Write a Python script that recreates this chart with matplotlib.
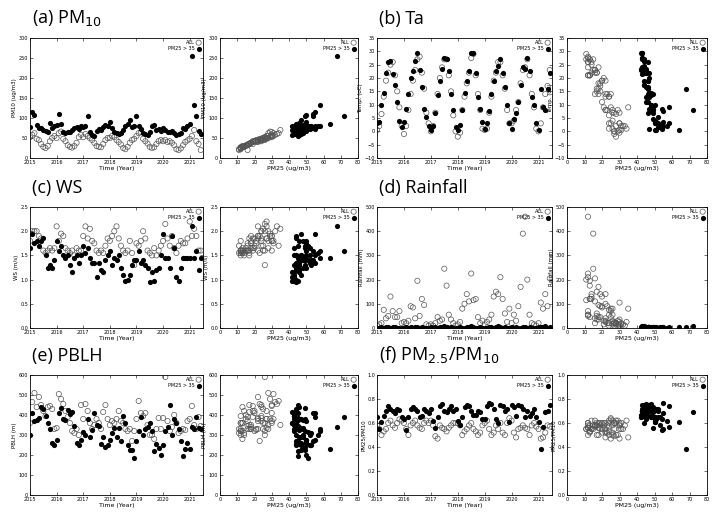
import matplotlib.pyplot as plt
import numpy as np

# Monthly means, Jan 2015 - Jun 2021 (78 months)
pm25_all = [30, 32, 28, 24, 22, 17, 14, 12, 13, 19, 25, 28,
            27, 31, 29, 23, 20, 16, 13, 12, 14, 18, 26, 30,
            29, 33, 27, 25, 21, 18, 15, 13, 12, 17, 24, 27,
            28, 30, 26, 22, 19, 16, 12, 11, 13, 18, 23, 26,
            31, 34, 30, 24, 20, 17, 14, 12, 13, 17, 22, 25,
            24, 26, 22, 20, 18, 15, 12, 11, 12, 16, 21, 24,
            27, 30, 35, 22, 19, 16]
pm25_high = [52, 55, 50, 48, 45, 46, 44, 43, 44, 46, 50, 53,
             50, 54, 49, 47, 45, 44, 43, 42, 45, 47, 52, 55,
             51, 57, 49, 48, 46, 45, 43, 44, 44, 46, 49, 52,
             50, 53, 48, 47, 44, 45, 43, 42, 44, 47, 49, 51,
             54, 58, 55, 48, 46, 45, 44, 43, 45, 46, 48, 50,
             47, 49, 46, 45, 44, 43, 42, 43, 44, 45, 48, 50,
             64, 68, 58, 72, 46, 47]

pm10_all = [52, 58, 62, 48, 45, 35, 28, 25, 30, 42, 50, 55,
            50, 62, 66, 48, 42, 32, 28, 26, 30, 38, 52, 58,
            52, 60, 55, 50, 45, 38, 30, 28, 27, 35, 45, 50,
            50, 55, 52, 45, 40, 34, 25, 22, 28, 38, 45, 48,
            55, 62, 65, 48, 42, 36, 28, 25, 27, 35, 42, 45,
            42, 45, 40, 42, 38, 32, 22, 20, 24, 32, 40, 44,
            48, 55, 70, 42, 35, 20]
pm10_high = [78, 115, 108, 82, 76, 74, 70, 68, 65, 88, 75, 80,
             82, 110, 85, 65, 62, 64, 66, 70, 75, 78, 72, 80,
             78, 80, 105, 64, 58, 56, 68, 72, 70, 78, 82, 80,
             90, 76, 64, 62, 60, 62, 70, 80, 85, 95, 78, 80,
             105, 80, 72, 62, 60, 58, 64, 80, 82, 70, 72, 68,
             74, 70, 65, 64, 68, 62, 58, 60, 62, 74, 72, 80,
             85, 255, 133, 105, 68, 60]

ta_all = [0.5, 2, 6.5, 13, 19, 22, 25, 26, 21, 15, 9, 2,
          -1, 2, 8, 14, 19, 23, 27, 28, 22, 16, 7, 3,
          0, 2, 7, 14, 20, 24, 27, 27, 21, 15, 6, 0,
          -2, -0.5, 8, 13, 18, 22, 27.5, 29, 21, 14, 8, 1,
          0.5, 1, 7, 13, 19, 22, 26, 26, 21, 16, 8, 3,
          3, 4, 8, 11, 18, 23, 24, 27, 21, 14, 9, 1,
          0, 3, 9, 14, 17, 23]
ta_high = [3, 3.5, 10, 14.5, 22, 26, 26.5, 21.5, 17.5, 11, 4, 1.5,
           3.5, 8.5, 14, 20, 22.5, 26.5, 29.5, 23, 16.5, 8.5, 5.5, 2,
           0.5, 2, 7, 13.5, 19, 23.5, 27.5, 27, 22.5, 14, 8, 1.5,
           0.5, 2.5, 8, 14.5, 19, 22.5, 29.5, 29.5, 22, 13, 8.5, 3.5,
           1, 3, 7.5, 14, 19, 22.5, 24.5, 27, 22, 16.5, 10, 3,
           1, 4.5, 7, 11, 17.5, 24, 23.5, 27.5, 22.5, 13, 10, 3,
           0.5, 16, 9, 8, 16, 22]

ws_all = [1.8, 2.0, 2.0, 2.0, 1.9, 1.85, 1.6, 1.55, 1.6, 1.65, 1.6, 1.65,
          2.1, 1.8, 1.95, 1.9, 1.65, 1.6, 1.55, 1.6, 1.5, 1.65, 1.6, 1.6,
          1.9, 2.1, 1.85, 2.05, 1.8, 1.75, 1.6, 1.55, 1.6, 1.55, 1.7, 1.85,
          1.8, 1.9, 2.0, 2.1, 1.85, 1.7, 1.6, 1.55, 1.6, 1.8, 1.55, 1.3,
          1.75, 1.7, 1.8, 2.0, 1.85, 1.6, 1.55, 1.5, 1.65, 1.5, 1.6, 1.7,
          1.8, 2.15, 1.85, 1.7, 1.9, 1.65, 1.55, 1.7, 1.8, 1.75, 1.75, 1.85,
          2.2, 1.9, 2.05, 1.9, 1.6, 1.6]
ws_high = [1.65, 1.95, 1.75, 1.8, 1.7, 1.8, 1.85, 1.5, 1.25, 1.3, 1.25, 1.4,
           1.8, 1.6, 1.7, 1.5, 1.45, 1.5, 1.3, 1.15, 1.45, 1.5, 1.35, 1.5,
           1.7, 1.55, 1.65, 1.45, 1.35, 1.35, 1.05, 1.35, 1.2, 1.15, 1.4, 1.5,
           1.6, 1.3, 1.45, 1.4, 1.5, 1.25, 1.1, 0.98, 1.0, 1.1, 1.3, 1.4,
           1.4, 1.6, 1.35, 1.4, 1.3, 1.25, 0.95, 1.15, 0.98, 1.2, 1.25, 1.5,
           1.95, 1.45, 1.45, 1.25, 1.9, 1.65, 1.05, 0.98, 1.25, 1.45, 1.45, 1.45,
           1.45, 2.1, 1.45, 1.6, 1.2, 1.45]

rain_all = [10, 15, 20, 75, 40, 50, 130, 70, 45, 45, 70, 20,
            25, 20, 30, 90, 85, 40, 195, 50, 120, 95, 15, 10,
            15, 10, 20, 45, 30, 35, 245, 175, 55, 35, 20, 10,
            15, 25, 80, 100, 140, 110, 225, 115, 120, 45, 20, 30,
            15, 25, 35, 55, 130, 150, 140, 210, 120, 60, 25, 80,
            20, 55, 30, 90, 170, 390, 460, 200, 55, 20, 15, 10,
            20, 105, 80, 140, 90, 205]
rain_high = [1, 2, 3, 2, 4, 3, 2, 5, 3, 2, 2, 1,
             2, 3, 1, 4, 2, 3, 5, 2, 3, 2, 1, 2,
             3, 2, 4, 1, 3, 5, 8, 4, 2, 3, 2, 1,
             2, 3, 1, 2, 4, 3, 10, 3, 2, 1, 3, 2,
             2, 1, 4, 3, 2, 6, 9, 4, 2, 3, 1, 2,
             3, 2, 4, 1, 2, 3, 5, 2, 3, 2, 1, 2,
             4, 5, 3, 8, 2, 3]

pblh_all = [360, 465, 510, 440, 490, 450, 420, 395, 440, 445, 430, 330,
            335, 505, 480, 455, 420, 390, 360, 320, 310, 330, 300, 450,
            380, 455, 420, 360, 330, 350, 380, 360, 330, 415, 450, 380,
            350, 370, 360, 380, 420, 370, 360, 330, 320, 330, 270, 320,
            380, 470, 410, 395, 410, 350, 300, 300, 280, 330, 385, 330,
            385, 590, 370, 320, 340, 400, 360, 310, 320, 330, 325, 370,
            380, 445, 350, 330, 390, 345]
pblh_high = [300, 410, 370, 375, 385, 440, 430, 395, 360, 330, 260, 250,
             275, 410, 435, 380, 375, 425, 405, 415, 345, 260, 250, 275,
             315, 300, 380, 290, 325, 410, 350, 345, 255, 290, 240, 250,
             275, 310, 335, 290, 335, 270, 395, 360, 250, 225, 225, 185,
             270, 320, 390, 300, 330, 340, 360, 320, 220, 255, 235, 200,
             250, 320, 340, 450, 300, 380, 360, 330, 270, 195, 230, 260,
             230, 340, 330, 390, 335, 330]

ratio_all = [0.58, 0.55, 0.5, 0.53, 0.55, 0.6, 0.62, 0.58, 0.56, 0.6, 0.63, 0.62,
             0.6, 0.55, 0.5, 0.58, 0.6, 0.62, 0.58, 0.56, 0.55, 0.6, 0.62, 0.6,
             0.62, 0.58, 0.49, 0.47, 0.58, 0.56, 0.55, 0.53, 0.56, 0.58, 0.6, 0.6,
             0.6, 0.58, 0.5, 0.53, 0.55, 0.58, 0.6, 0.55, 0.53, 0.5, 0.52, 0.58,
             0.6, 0.62, 0.55, 0.5, 0.52, 0.58, 0.55, 0.6, 0.52, 0.5, 0.6, 0.64,
             0.62, 0.52, 0.48, 0.55, 0.56, 0.58, 0.56, 0.55, 0.5, 0.58, 0.6, 0.57,
             0.55, 0.47, 0.48, 0.52, 0.58, 0.57]
ratio_high = [0.65, 0.55, 0.61, 0.66, 0.7, 0.74, 0.72, 0.7, 0.68, 0.72, 0.71, 0.65,
              0.63, 0.54, 0.65, 0.72, 0.73, 0.72, 0.7, 0.65, 0.66, 0.72, 0.7, 0.68,
              0.72, 0.62, 0.56, 0.65, 0.74, 0.76, 0.7, 0.69, 0.72, 0.74, 0.7, 0.72,
              0.62, 0.58, 0.65, 0.73, 0.75, 0.74, 0.7, 0.67, 0.67, 0.7, 0.69, 0.63,
              0.63, 0.74, 0.77, 0.76, 0.72, 0.63, 0.6, 0.75, 0.74, 0.7, 0.72, 0.61,
              0.75, 0.73, 0.66, 0.75, 0.74, 0.72, 0.65, 0.7, 0.66, 0.68, 0.72, 0.65,
              0.61, 0.38, 0.57, 0.69, 0.7, 0.75]

months = 2015 + np.arange(len(pm25_all)) / 12.0

# (title, y_label, all, high, ylim, ystep)
panels = [
    (r'(a) PM$_{10}$', 'PM10 (ug/m3)', pm10_all, pm10_high, (0, 300), 50),
    ('(b) Ta', 'Temp. (oC)', ta_all, ta_high, (-10, 35), 5),
    ('(c) WS', 'WS (m/s)', ws_all, ws_high, (0, 2.5), 0.5),
    ('(d) Rainfall', 'Rainfall (mm)', rain_all, rain_high, (0, 500), 100),
    ('(e) PBLH', 'PBLH (m)', pblh_all, pblh_high, (0, 600), 100),
    (r'(f) PM$_{2.5}$/PM$_{10}$', 'PM25/PM10', ratio_all, ratio_high, (0, 1), 0.2),
]

W, H = 724, 519
fig = plt.figure(figsize=(W / 100, H / 100), dpi=100)

col_x = [(30, 203, 220, 358), (377, 552, 567, 707)]
row_y = [(38, 158), (207, 328), (375, 495)]


def rect(x0, x1, y0, y1):
    return [x0 / W, 1 - y1 / H, (x1 - x0) / W, (y1 - y0) / H]


def style(ax, ylim, ystep):
    ax.set_ylim(*ylim)
    ax.set_yticks(np.arange(ylim[0], ylim[1] + ystep / 2, ystep))
    ax.tick_params(direction='in', top=True, right=True, labelsize=3.5,
                   length=2, width=0.4, pad=1.5)
    for s in ax.spines.values():
        s.set_linewidth(0.6)


def draw(ax, x_all, y_all, x_high, y_high):
    ax.scatter(x_all, y_all, s=14, facecolors='none', edgecolors='#555555',
               linewidths=0.5, label='ALL')
    ax.scatter(x_high, y_high, s=14, color='black', linewidths=0,
               label='PM25 > 35')
    ax.legend(loc='upper right', fontsize=3.5, frameon=False, markerfirst=False,
              handletextpad=0.3, borderpad=0.2, labelspacing=0.2,
              handlelength=1.0, borderaxespad=0.2)


for i, (title, ylab, y_all, y_high, ylim, ystep) in enumerate(panels):
    r, c = divmod(i, 2)
    lx0, lx1, rx0, rx1 = col_x[c]
    y0, y1 = row_y[r]

    ax = fig.add_axes(rect(lx0, lx1, y0, y1))
    draw(ax, months, y_all, months, y_high)
    ax.set_xlim(2015, 2021.5)
    ax.set_xticks(range(2015, 2022))
    style(ax, ylim, ystep)
    ax.set_xlabel('Time (Year)', fontsize=4.5, labelpad=1)
    ax.set_ylabel(ylab, fontsize=4, labelpad=1)

    ax2 = fig.add_axes(rect(rx0, rx1, y0, y1))
    draw(ax2, pm25_all, y_all, pm25_high, y_high)
    ax2.set_xlim(0, 80)
    ax2.set_xticks(range(0, 81, 10))
    style(ax2, ylim, ystep)
    ax2.set_xlabel('PM25 (ug/m3)', fontsize=4.5, labelpad=1)
    ax2.set_ylabel(ylab, fontsize=4, labelpad=1)

    fig.text((lx0 + 2) / W, 1 - (y0 - 10) / H, title, fontsize=13,
             family='Open Sans', va='bottom', ha='left')

fig.savefig('out.png', dpi=100, facecolor='white')
